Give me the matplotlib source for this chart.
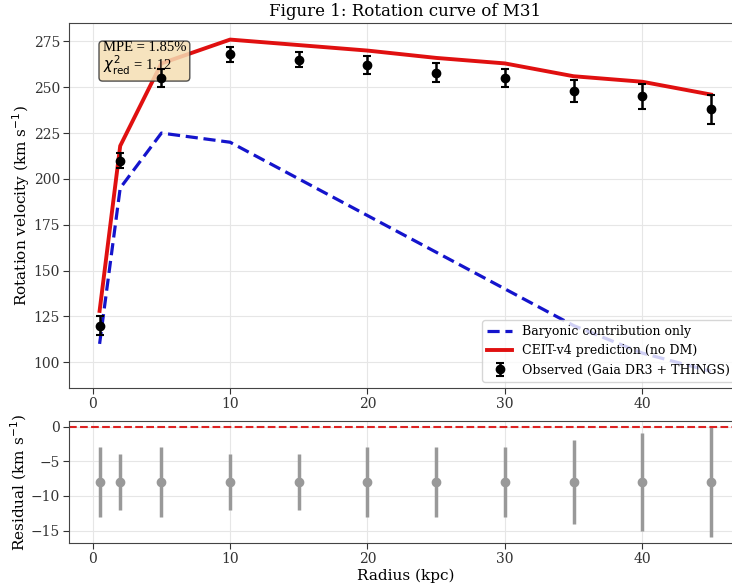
import numpy as np
import matplotlib
matplotlib.use("Agg")
import matplotlib.pyplot as plt

# M31 rotation curve data
radius = [0.5, 2, 5, 10, 15, 20, 25, 30, 35, 40, 45]          # kpc
v_obs = [120, 210, 255, 268, 265, 262, 258, 255, 248, 245, 238]
v_err = [5, 4, 5, 4, 4, 5, 5, 5, 6, 7, 8]
v_ceit = [128, 218, 263, 276, 273, 270, 266, 263, 256, 253, 246]
v_bary = [110, 195, 225, 220, 200, 180, 160, 140, 120, 105, 95]
mpe_txt = "1.85%"
chi2_txt = "1.12"

plt.rcParams["font.family"] = "DejaVu Serif"
plt.rcParams["axes.edgecolor"] = "#444444"

r = np.array(radius)
resid = np.array(v_obs) - np.array(v_ceit)

fig = plt.figure(figsize=(7.32, 5.85), dpi=100)
# right edge of the axes runs a little past the canvas, as in the reference crop
ax = fig.add_axes([0.0943, 0.3368, 1.013 - 0.0943, 0.9607 - 0.3368])
axr = fig.add_axes([0.0943, 0.0718, 1.013 - 0.0943, 0.2803 - 0.0718], sharex=ax)

for a in (ax, axr):
    a.grid(True, color="#e6e6e6", lw=0.8)
    a.set_axisbelow(True)
    a.tick_params(labelsize=10, colors="#333333", length=4, pad=2.5)

ax.plot(r, v_bary, "--", color="#1414cc", lw=2.3, dashes=(3.8, 1.8), label="Baryonic contribution only")
ax.plot(r, v_ceit, "-", color="#e01010", lw=2.8, label="CEIT-v4 prediction (no DM)")
ax.errorbar(r, v_obs, yerr=v_err, fmt="o", color="black", ms=6, capsize=3,
            elinewidth=1.8, capthick=1.5, label="Observed (Gaia DR3 + THINGS)", zorder=5)
ax.set_ylabel("Rotation velocity (km s$^{-1}$)", fontsize=11, labelpad=1)
ax.set_title("Figure 1: Rotation curve of M31", fontsize=12, pad=5)
ax.legend(loc="lower right", fontsize=9, framealpha=0.8)
ax.text(0.05, 0.95, f"MPE = {mpe_txt}\n$\\chi^2_{{\\rm red}}$ = {chi2_txt}", transform=ax.transAxes,
        va="top", ha="left", fontsize=10.5, family="Liberation Serif", linespacing=1.0,
        bbox=dict(boxstyle="round,pad=0.25", facecolor="wheat", edgecolor="#333333", alpha=0.85))
ax.tick_params(labelbottom=True)

axr.errorbar(r, resid, yerr=v_err, fmt="o", color="#999999", ms=6, elinewidth=2.5, capsize=0)
axr.axhline(0, color="#dd2222", ls="--", lw=1.5)
axr.set_ylabel("Residual (km s$^{-1}$)", fontsize=11, labelpad=1)
axr.set_xlabel("Radius (kpc)", fontsize=11, labelpad=2)

fig.savefig("out.png", dpi=100)
